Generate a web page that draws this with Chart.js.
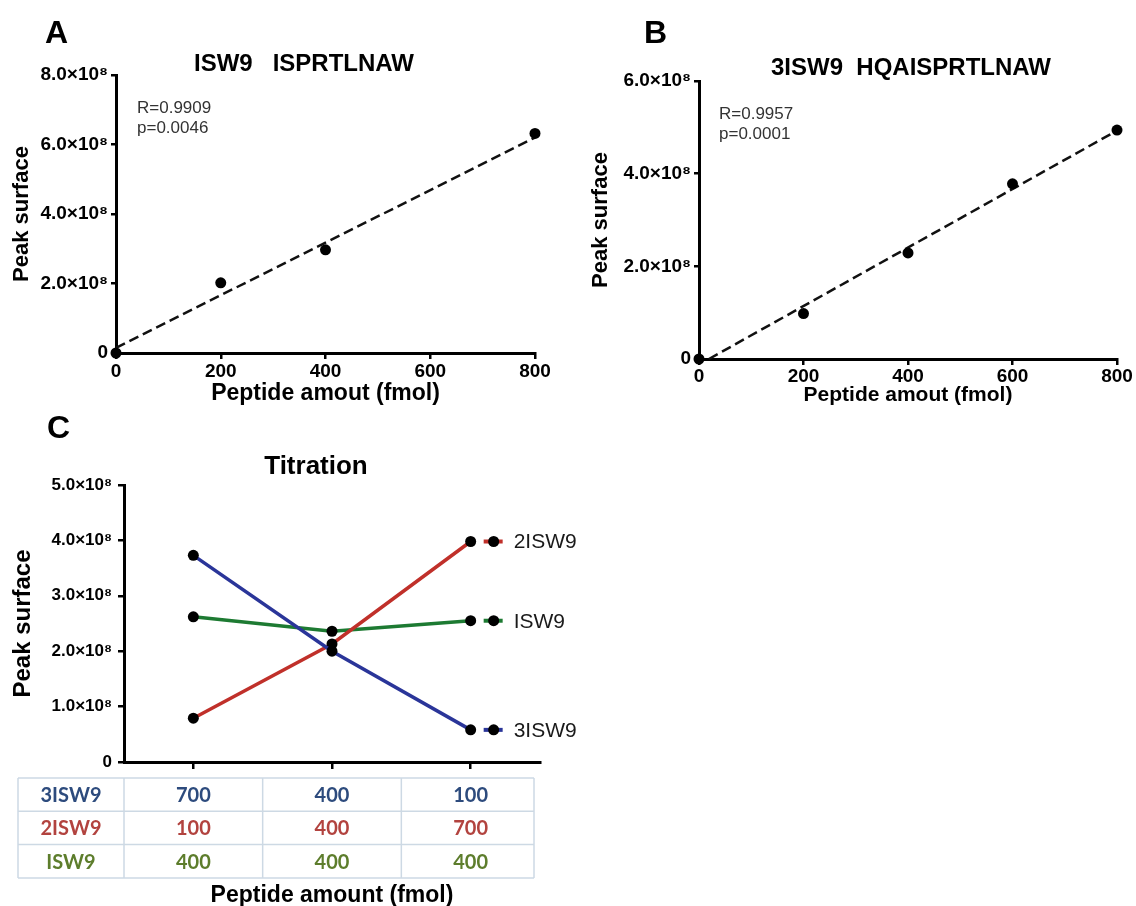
<!DOCTYPE html>
<html>
<head>
<meta charset="utf-8">
<script src="https://cdn.jsdelivr.net/npm/chart.js@4.4.1/dist/chart.umd.min.js"></script>
<style>
  html, body { margin: 0; padding: 0; background: #fff; overflow: hidden; }
  #page { position: relative; width: 1136px; height: 906px; font-family: "Liberation Sans", Arial, Helvetica, sans-serif; }
  canvas { position: absolute; }
  .txt { position: absolute; white-space: pre; line-height: 1; color: #000; }
  .letter { font-size: 32px; font-weight: bold; }
  .title { font-weight: bold; text-align: center; width: 400px; }
  .stat { font-size: 17px; color: #333; }
</style>
</head>
<body>
<div id="page">
  <canvas id="chartA" width="560" height="420" style="left:0px;top:0px"></canvas>
  <canvas id="chartB" width="576" height="420" style="left:560px;top:0px"></canvas>
  <canvas id="chartC" width="620" height="492" style="left:0px;top:420px"></canvas>

  <div class="txt letter" style="left:45px;top:16px">A</div>
  <div class="txt letter" style="left:644px;top:16px">B</div>
  <div class="txt letter" style="left:47px;top:411px">C</div>

  <div class="txt title" style="left:104px;top:51px;font-size:24px">ISW9   ISPRTLNAW</div>
  <div class="txt title" style="left:711px;top:55px;font-size:24px">3ISW9  HQAISPRTLNAW</div>
  <div class="txt title" style="left:116px;top:452px;font-size:26px">Titration</div>

  <div class="txt stat" style="left:137px;top:99px">R=0.9909</div>
  <div class="txt stat" style="left:137px;top:119px">p=0.0046</div>
  <div class="txt stat" style="left:719px;top:105px">R=0.9957</div>
  <div class="txt stat" style="left:719px;top:125px">p=0.0001</div>
</div>

<script>
const FONT = '"Liberation Sans", Arial, Helvetica, sans-serif';

// A: ISW9 standard curve
const amountA = [0, 200, 400, 800];
const surfaceA = [0, 2.02e8, 2.97e8, 6.32e8];
const fitAmountA = [0, 800];
const fitSurfaceA = [0.15e8, 6.2e8];
const yTicksA = [0, 2e8, 4e8, 6e8, 8e8];

// B: 3ISW9 standard curve
const amountB = [0, 200, 400, 600, 800];
const surfaceB = [0, 0.98e8, 2.29e8, 3.78e8, 4.94e8];
const fitAmountB = [19, 800];
const fitSurfaceB = [0, 4.93e8];
const yTicksB = [0, 2e8, 4e8, 6e8];

const xTicksAB = [0, 200, 400, 600, 800];

// C: titration, amounts (fmol) per mix and measured peak surface
const mixes = ['Mix 1', 'Mix 2', 'Mix 3'];
const fmol3ISW9 = [700, 400, 100];
const fmol2ISW9 = [100, 400, 700];
const fmolISW9 = [400, 400, 400];
const peak3ISW9 = [3.73e8, 2.0e8, 0.58e8];
const peak2ISW9 = [0.79e8, 2.13e8, 3.98e8];
const peakISW9 = [2.62e8, 2.36e8, 2.55e8];
const yTicksC = [0, 1e8, 2e8, 3e8, 4e8, 5e8];

function sciLabel(v) {
    return v === 0 ? '0' : (v / 1e8).toFixed(1) + '×10⁸';
}

function pts(xs, ys) {
    return xs.map((x, i) => ({ x: x, y: ys[i] }));
}

function axis(o) {
    return {
        type: o.type || 'linear',
        min: o.min, max: o.max,
        offset: !!o.offset,
        border: { display: true, color: '#000', width: 3 },
        grid: { display: true, drawOnChartArea: false, drawTicks: true, tickLength: o.tickLength, color: '#000', lineWidth: 2.5 },
        ticks: { display: o.showTicks !== false, color: '#000', font: { family: FONT, size: o.tickSize, weight: 'bold' }, padding: o.tickPadding, callback: o.callback, maxRotation: 0, autoSkip: false },
        title: { display: true, text: o.title, color: '#000', font: { family: FONT, size: o.titleSize, weight: 'bold' }, padding: o.titlePadding },
        afterBuildTicks: o.tickValues ? (s => { s.ticks = o.tickValues.map(v => ({ value: v })); }) : undefined,
        afterFit: o.afterFit
    };
}

function calibration(id, xs, ys, fx, fy, yTicks, yMax, lay) {
    new Chart(document.getElementById(id), {
        type: 'scatter',
        data: {
            datasets: [
                { data: pts(xs, ys), pointRadius: 5.5, pointBackgroundColor: '#000', pointBorderWidth: 0, clip: false },
                { data: pts(fx, fy), showLine: true, borderColor: '#111', borderWidth: 2.5, borderDash: [10, 5], pointRadius: 0, clip: false }
            ]
        },
        options: {
            responsive: false,
            animation: false,
            layout: { padding: lay.padding },
            plugins: { legend: { display: false }, tooltip: { enabled: false } },
            scales: {
                x: axis({ min: 0, max: 800, tickValues: xTicksAB, tickLength: 6, tickSize: 19, tickPadding: lay.xTickPad,
                          callback: v => String(v), title: 'Peptide amout (fmol)', titleSize: lay.xTitleSize,
                          titlePadding: { top: 0, bottom: lay.xTitlePad }, afterFit: s => { s.height = lay.xHeight; } }),
                y: axis({ min: 0, max: yMax, tickValues: yTicks, tickLength: 5, tickSize: 19, tickPadding: 3,
                          callback: sciLabel, title: 'Peak surface', titleSize: 22,
                          titlePadding: { top: lay.yTitlePad, bottom: 0 }, afterFit: s => { s.width = lay.yWidth; } })
            }
        }
    });
}

calibration('chartA', amountA, surfaceA, fitAmountA, fitSurfaceA, yTicksA, 8e8,
    { padding: { left: 4, right: 25, top: 75, bottom: 0 }, yWidth: 112, xHeight: 67, xTickPad: 1, xTitleSize: 23, xTitlePad: 13, yTitlePad: 5 });
calibration('chartB', amountB, surfaceB, fitAmountB, fitSurfaceB, yTicksB, 6e8,
    { padding: { left: 4, right: 19, top: 81, bottom: 0 }, yWidth: 135, xHeight: 61, xTickPad: 0, xTitleSize: 21, xTitlePad: 12, yTitlePad: 24 });

// end-of-line labels for the titration chart
const endLabels = {
    id: 'endLabels',
    afterDatasetsDraw(chart) {
        const ctx = chart.ctx;
        chart.data.datasets.forEach((ds, i) => {
            const meta = chart.getDatasetMeta(i);
            const p = meta.data[meta.data.length - 1];
            ctx.save();
            ctx.strokeStyle = ds.borderColor;
            ctx.lineWidth = 4;
            ctx.beginPath();
            ctx.moveTo(p.x + 13, p.y);
            ctx.lineTo(p.x + 32, p.y);
            ctx.stroke();
            ctx.fillStyle = '#000';
            ctx.beginPath();
            ctx.arc(p.x + 23, p.y, 5.5, 0, Math.PI * 2);
            ctx.fill();
            ctx.font = '21px ' + FONT;
            ctx.textBaseline = 'middle';
            ctx.fillStyle = '#1a1a1a';
            ctx.fillText(ds.label, p.x + 43, p.y + 1);
            ctx.restore();
        });
    }
};

// amounts table under the titration x axis, columns follow the category bands
const amountTable = {
    id: 'amountTable',
    afterDraw(chart) {
        const ctx = chart.ctx, xs = chart.scales.x, area = chart.chartArea;
        const half = (xs.getPixelForValue(1) - xs.getPixelForValue(0)) / 2;
        const edges = [18, area.left];
        mixes.forEach((m, i) => edges.push(xs.getPixelForValue(i) + half));
        edges[edges.length - 1] -= 6;
        const top = area.bottom + 16, rowH = 33.3;
        const rows = [
            ['3ISW9', fmol3ISW9, '#2d4b7d'],
            ['2ISW9', fmol2ISW9, '#b2433f'],
            ['ISW9', fmolISW9, '#5d7d2c']
        ];
        const left = edges[0], right = edges[edges.length - 1];
        ctx.save();
        ctx.strokeStyle = '#cdd9e4';
        ctx.lineWidth = 1.5;
        for (let r = 0; r <= rows.length; r++) {
            ctx.beginPath();
            ctx.moveTo(left, top + r * rowH);
            ctx.lineTo(right, top + r * rowH);
            ctx.stroke();
        }
        edges.forEach(x => {
            ctx.beginPath();
            ctx.moveTo(x, top);
            ctx.lineTo(x, top + rows.length * rowH);
            ctx.stroke();
        });
        ctx.font = 'bold 20px Lato, "Open Sans", sans-serif';
        ctx.textAlign = 'center';
        ctx.textBaseline = 'middle';
        rows.forEach((row, r) => {
            const cy = top + r * rowH + rowH / 2 + 1;
            ctx.fillStyle = row[2];
            ctx.fillText(row[0], (edges[0] + edges[1]) / 2, cy);
            row[1].forEach((v, i) => ctx.fillText(String(v), xs.getPixelForValue(i), cy));
        });
        ctx.restore();
    }
};

function titrationSet(label, values, color) {
    return {
        label: label, data: values, borderColor: color, borderWidth: 3.5, tension: 0,
        pointRadius: 5.5, pointBackgroundColor: '#000', pointBorderWidth: 0, clip: false
    };
}

new Chart(document.getElementById('chartC'), {
    type: 'line',
    data: {
        labels: mixes,
        datasets: [
            titrationSet('3ISW9', peak3ISW9, '#2a3599'),
            titrationSet('2ISW9', peak2ISW9, '#c0302a'),
            titrationSet('ISW9', peakISW9, '#1d7a32')
        ]
    },
    options: {
        responsive: false,
        animation: false,
        layout: { padding: { left: 4, right: 80, top: 65, bottom: 0 } },
        plugins: { legend: { display: false }, tooltip: { enabled: false } },
        scales: {
            x: axis({ type: 'category', offset: true, tickLength: 7, showTicks: false, tickSize: 17, tickPadding: 0,
                      title: 'Peptide amount (fmol)', titleSize: 23, titlePadding: { top: 0, bottom: 3 },
                      afterFit: s => { s.height = 150; } }),
            y: axis({ min: 0, max: 5e8, tickValues: yTicksC, tickLength: 6, tickSize: 17, tickPadding: 6,
                      callback: sciLabel, title: 'Peak surface', titleSize: 24,
                      titlePadding: { top: 5, bottom: 0 }, afterFit: s => { s.width = 120; } })
        }
    },
    plugins: [endLabels, amountTable]
});
</script>
</body>
</html>
